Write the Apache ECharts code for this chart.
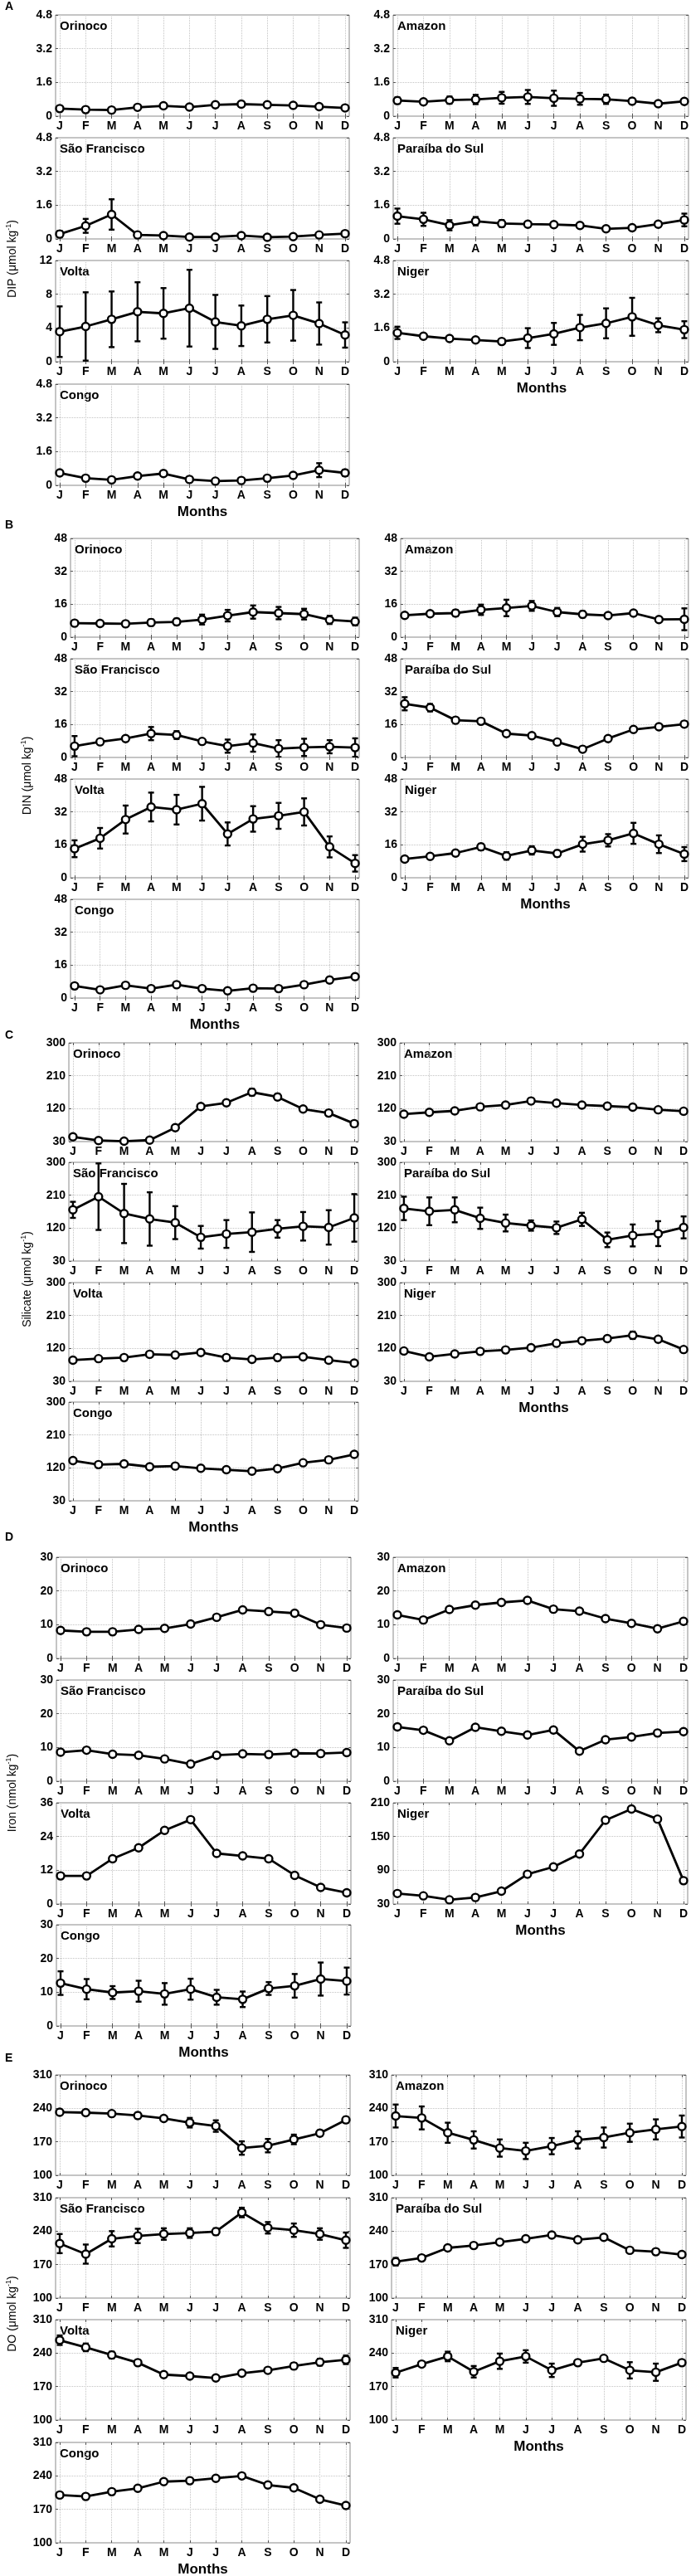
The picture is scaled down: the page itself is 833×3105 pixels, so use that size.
<!DOCTYPE html>
<html>
<head>
<meta charset="utf-8">
<script src="https://cdn.jsdelivr.net/npm/echarts@6/dist/echarts.min.js"></script>
<style>
html, body { margin: 0; padding: 0; background: #fff; }
#main { width: 833px; height: 3105px; }
</style>
</head>
<body>
<div id="main"></div>
<script>
// month letters on every x axis
const MONTHS = ['J', 'F', 'M', 'A', 'M', 'J', 'J', 'A', 'S', 'O', 'N', 'D'];
const RIVERS = ['Orinoco', 'Amazon', 'São Francisco', 'Paraíba do Sul', 'Volta', 'Niger', 'Congo'];

// ---- A: DIP (umol/kg), mean and error ----
const dipOrinoco = [0.36, 0.31, 0.29, 0.42, 0.49, 0.43, 0.54, 0.57, 0.54, 0.51, 0.45, 0.39];
const dipOrinocoSd = [0.05, 0.04, 0.04, 0.06, 0.06, 0.05, 0.1, 0.13, 0.1, 0.07, 0.05, 0.05];
const dipAmazon = [0.74, 0.68, 0.76, 0.79, 0.87, 0.91, 0.85, 0.82, 0.80, 0.71, 0.59, 0.70];
const dipAmazonSd = [0.15, 0.06, 0.17, 0.22, 0.28, 0.33, 0.36, 0.28, 0.22, 0.12, 0.05, 0.08];
const dipSaoFrancisco = [0.23, 0.62, 1.16, 0.19, 0.16, 0.09, 0.09, 0.16, 0.08, 0.11, 0.19, 0.25];
const dipSaoFranciscoSd = [0.15, 0.33, 0.72, 0.05, 0.04, 0.03, 0.03, 0.04, 0.03, 0.03, 0.05, 0.05];
const dipParaiba = [1.08, 0.93, 0.65, 0.84, 0.73, 0.70, 0.68, 0.64, 0.48, 0.53, 0.70, 0.90];
const dipParaibaSd = [0.36, 0.31, 0.24, 0.2, 0.16, 0.12, 0.08, 0.07, 0.07, 0.08, 0.12, 0.3];
const dipVolta = [3.56, 4.18, 5.03, 5.92, 5.73, 6.35, 4.72, 4.26, 5.03, 5.50, 4.53, 3.17];
const dipVoltaSd = [3.0, 4.05, 3.3, 3.5, 3.0, 4.55, 3.2, 2.4, 2.75, 3.0, 2.5, 1.5];
const dipNiger = [1.37, 1.21, 1.10, 1.03, 0.96, 1.12, 1.32, 1.62, 1.82, 2.13, 1.73, 1.52];
const dipNigerSd = [0.29, 0.05, 0.05, 0.08, 0.03, 0.47, 0.52, 0.6, 0.71, 0.9, 0.33, 0.4];
const dipCongo = [0.59, 0.34, 0.26, 0.44, 0.56, 0.28, 0.20, 0.23, 0.34, 0.47, 0.72, 0.59];
const dipCongoSd = [0.1, 0.04, 0.04, 0.05, 0.12, 0.04, 0.03, 0.03, 0.04, 0.05, 0.33, 0.15];

// ---- B: DIN ----
const dinOrinoco = [6.8, 6.65, 6.5, 7.1, 7.45, 8.55, 10.45, 12.2, 11.7, 11.2, 8.4, 7.6];
const dinOrinocoSd = [0.5, 0.5, 1.0, 1.5, 1.5, 2.4, 2.8, 3.2, 3.0, 2.6, 2.0, 1.9];
const dinAmazon = [10.6, 11.4, 11.7, 13.3, 14.2, 15.2, 12.2, 11.1, 10.5, 11.7, 8.6, 8.7];
const dinAmazonSd = [0.5, 1.0, 1.5, 2.5, 4.0, 2.4, 2.0, 1.5, 0.8, 0.8, 0.5, 5.3];
const dinSaoFrancisco = [5.5, 7.6, 9.2, 11.6, 10.9, 7.8, 5.5, 7.0, 4.3, 4.9, 5.2, 4.8];
const dinSaoFranciscoSd = [4.9, 1.0, 1.0, 3.2, 1.9, 0.8, 3.2, 4.2, 4.1, 4.2, 3.2, 4.5];
const dinParaiba = [26.1, 24.2, 18.1, 17.6, 11.6, 10.6, 7.5, 4.0, 9.2, 13.6, 14.9, 16.2];
const dinParaibaSd = [3.2, 1.8, 1.2, 0.8, 0.8, 0.8, 0.8, 0.8, 0.8, 0.8, 0.8, 1.2];
const dinVolta = [14.1, 19.2, 28.3, 34.4, 33.1, 36.0, 21.3, 28.6, 30.1, 32.0, 15.0, 7.0];
const dinVoltaSd = [4.1, 5.0, 6.8, 7.0, 7.2, 8.2, 5.6, 6.2, 6.3, 6.6, 5.1, 4.0];
const dinNiger = [9.1, 10.4, 12.0, 15.0, 10.6, 13.3, 11.8, 16.3, 18.2, 21.6, 16.3, 11.5];
const dinNigerSd = [1.0, 1.0, 1.2, 1.5, 1.8, 2.0, 1.5, 3.6, 3.0, 5.1, 4.3, 3.4];
const dinCongo = [5.9, 4.0, 6.2, 4.6, 6.5, 4.6, 3.5, 4.8, 4.6, 6.5, 8.8, 10.4];
const dinCongoSd = [1.0, 0.8, 0.8, 0.5, 1.2, 0.5, 0.5, 0.5, 0.5, 0.8, 1.3, 1.3];

// ---- C: silicate ----
const sioOrinoco = [43, 33, 31, 34, 68, 126, 136, 165, 152, 119, 108, 79];
const sioOrinocoSd = [3, 2, 2, 2, 3, 3, 3, 9, 8, 6, 4, 3];
const sioAmazon = [105, 110, 114, 125, 130, 141, 135, 130, 127, 124, 117, 113];
const sioAmazonSd = [4, 4, 5, 5, 5, 7, 6, 5, 5, 4, 4, 4];
const sioSaoFrancisco = [170, 206, 160, 145, 135, 95, 104, 109, 118, 125, 122, 148];
const sioSaoFranciscoSd = [22, 91, 81, 73, 45, 31, 38, 54, 24, 39, 47, 65];
const sioParaiba = [174, 166, 170, 147, 134, 127, 121, 144, 88, 100, 105, 122];
const sioParaibaSd = [32, 38, 34, 29, 23, 14, 17, 18, 20, 30, 34, 30];
const sioVolta = [88, 92, 95, 104, 102, 109, 95, 90, 95, 97, 88, 80];
const sioVoltaSd = [4, 4, 4, 4, 4, 5, 4, 4, 4, 4, 4, 3];
const sioNiger = [113, 97, 105, 112, 116, 122, 134, 141, 147, 156, 145, 117];
const sioNigerSd = [5, 5, 5, 5, 5, 6, 6, 6, 7, 10, 7, 4];
const sioCongo = [140, 129, 131, 123, 125, 119, 115, 111, 118, 134, 142, 157];
const sioCongoSd = [4, 4, 4, 3, 3, 3, 3, 3, 3, 4, 4, 4];

// ---- D: iron (nmol/kg) ----
const feOrinoco = [8.3, 7.9, 7.9, 8.6, 8.9, 10.2, 12.2, 14.4, 13.9, 13.4, 10.0, 9.0];
const feOrinocoSd = [0.3, 0.3, 0.3, 0.3, 0.3, 0.3, 0.4, 0.4, 0.4, 0.4, 0.3, 0.3];
const feAmazon = [12.9, 11.4, 14.5, 15.8, 16.6, 17.2, 14.6, 14.0, 11.8, 10.4, 8.8, 11.0];
const feAmazonSd = [0.4, 0.4, 0.4, 0.4, 0.4, 0.6, 0.4, 0.4, 0.4, 0.4, 0.4, 0.4];
const feSaoFrancisco = [8.6, 9.2, 8.0, 7.7, 6.6, 5.1, 7.7, 8.1, 7.9, 8.3, 8.2, 8.5];
const feSaoFranciscoSd = [0.3, 0.3, 0.3, 0.3, 0.3, 0.3, 0.3, 0.3, 0.3, 0.3, 0.3, 0.3];
const feParaiba = [16.1, 15.1, 12.0, 16.0, 14.8, 13.7, 15.2, 8.9, 12.3, 13.1, 14.3, 14.7];
const feParaibaSd = [0.5, 0.4, 0.4, 0.4, 0.4, 0.4, 0.4, 0.4, 0.4, 0.4, 0.4, 0.4];
const feVolta = [10.0, 10.0, 16.1, 20.0, 26.2, 30.0, 18.0, 17.1, 16.1, 10.2, 5.9, 4.0];
const feVoltaSd = [0.4, 0.4, 0.4, 0.4, 0.4, 0.4, 0.4, 0.4, 0.4, 0.4, 0.4, 0.4];
const feNiger = [48.7, 44.5, 37.5, 41.6, 52.8, 83, 96, 119, 179, 199, 181, 71.5];
const feNigerSd = [1.5, 1.5, 1.5, 1.5, 1.5, 1.5, 1.5, 1.5, 1.5, 1.5, 1.5, 1.5];
const feCongo = [12.7, 10.9, 9.9, 10.3, 9.5, 10.9, 8.5, 7.9, 11.1, 11.9, 13.9, 13.3];
const feCongoSd = [3.5, 3.0, 1.9, 3.1, 3.2, 3.1, 2.2, 2.3, 1.9, 3.5, 4.9, 4.0];

// ---- E: dissolved oxygen ----
const doOrinoco = [232, 231, 229, 225, 219, 210, 203, 157, 162, 175, 188, 216];
const doOrinocoSd = [3, 3, 3, 6, 4, 10, 12, 14, 14, 10, 6, 6];
const doAmazon = [224, 220, 189, 174, 157, 151, 161, 174, 179, 189, 196, 202];
const doAmazonSd = [24, 24, 21, 18, 18, 17, 17, 18, 21, 19, 21, 23];
const doSaoFrancisco = [214, 192, 224, 230, 234, 236, 239, 279, 247, 242, 234, 221];
const doSaoFranciscoSd = [20, 20, 16, 15, 12, 10, 7, 10, 12, 14, 12, 16];
const doParaiba = [176, 184, 205, 210, 217, 224, 232, 222, 227, 200, 197, 191];
const doParaibaSd = [8, 5, 3, 3, 3, 3, 3, 3, 3, 3, 3, 3];
const doVolta = [267, 252, 236, 220, 195, 192, 188, 198, 204, 213, 221, 226];
const doVoltaSd = [10, 8, 7, 5, 3, 3, 3, 3, 3, 6, 7, 9];
const doNiger = [199, 217, 233, 201, 223, 233, 204, 220, 229, 204, 200, 220];
const doNigerSd = [10, 3, 10, 12, 16, 13, 14, 3, 5, 17, 18, 3];
const doCongo = [200, 197, 207, 214, 228, 230, 235, 240, 221, 215, 191, 178];
const doCongoSd = [3, 3, 3, 3, 3, 3, 3, 3, 3, 3, 3, 3];

// y tick values
const dipTicks = [0, 1.6, 3.2, 4.8];
const dipVoltaTicks = [0, 4, 8, 12];
const dinTicks = [0, 16, 32, 48];
const sioTicks = [30, 120, 210, 300];
const feTicks = [0, 10, 20, 30];
const feVoltaTicks = [0, 12, 24, 36];
const feNigerTicks = [30, 90, 150, 210];
const doTicks = [100, 170, 240, 310];

const panels = [
  { letter: 'A', name: 'DIP (μmol kg', means: [dipOrinoco, dipAmazon, dipSaoFrancisco, dipParaiba, dipVolta, dipNiger, dipCongo],
    sds: [dipOrinocoSd, dipAmazonSd, dipSaoFranciscoSd, dipParaibaSd, dipVoltaSd, dipNigerSd, dipCongoSd],
    ticks: [dipTicks, dipTicks, dipTicks, dipTicks, dipVoltaTicks, dipTicks, dipTicks] },
  { letter: 'B', name: 'DIN (μmol kg', means: [dinOrinoco, dinAmazon, dinSaoFrancisco, dinParaiba, dinVolta, dinNiger, dinCongo],
    sds: [dinOrinocoSd, dinAmazonSd, dinSaoFranciscoSd, dinParaibaSd, dinVoltaSd, dinNigerSd, dinCongoSd],
    ticks: [dinTicks, dinTicks, dinTicks, dinTicks, dinTicks, dinTicks, dinTicks] },
  { letter: 'C', name: 'Silicate (μmol kg', means: [sioOrinoco, sioAmazon, sioSaoFrancisco, sioParaiba, sioVolta, sioNiger, sioCongo],
    sds: [sioOrinocoSd, sioAmazonSd, sioSaoFranciscoSd, sioParaibaSd, sioVoltaSd, sioNigerSd, sioCongoSd],
    ticks: [sioTicks, sioTicks, sioTicks, sioTicks, sioTicks, sioTicks, sioTicks] },
  { letter: 'D', name: 'Iron (nmol kg', means: [feOrinoco, feAmazon, feSaoFrancisco, feParaiba, feVolta, feNiger, feCongo],
    sds: [feOrinocoSd, feAmazonSd, feSaoFranciscoSd, feParaibaSd, feVoltaSd, feNigerSd, feCongoSd],
    ticks: [feTicks, feTicks, feTicks, feTicks, feVoltaTicks, feNigerTicks, feTicks] },
  { letter: 'E', name: 'DO (μmol kg', means: [doOrinoco, doAmazon, doSaoFrancisco, doParaiba, doVolta, doNiger, doCongo],
    sds: [doOrinocoSd, doAmazonSd, doSaoFranciscoSd, doParaibaSd, doVoltaSd, doNigerSd, doCongoSd],
    ticks: [doTicks, doTicks, doTicks, doTicks, doTicks, doTicks, doTicks] }
];

// page layout (pixels): row tops, plot height, column x ranges, label spots
const layout = [
  { letterY: 8,    rowTops: [18, 166, 314, 463],       rowH: 122, cols: [[67, 421], [474, 832]], yTitle: [15, 312] },
  { letterY: 633,  rowTops: [649, 794, 939, 1084],     rowH: 119, cols: [[85, 433], [483, 832]], yTitle: [33, 935] },
  { letterY: 1248, rowTops: [1257, 1401, 1546, 1690],  rowH: 119, cols: [[83, 432], [482, 829]], yTitle: [33, 1542] },
  { letterY: 1853, rowTops: [1877, 2025, 2173, 2320],  rowH: 122, cols: [[68, 423], [474, 829]], yTitle: [15, 2161] },
  { letterY: 2481, rowTops: [2501, 2649, 2796, 2944],  rowH: 121, cols: [[67, 422], [472, 827]], yTitle: [15, 2789] }
];
const slots = [[0, 0], [0, 1], [1, 0], [1, 1], [2, 0], [2, 1], [3, 0]]; // [row, col] for each river

const FONT = '"Liberation Sans", Arial, Helvetica, sans-serif';
const monthPos = [1, 2, 3, 4, 5, 6, 7, 8, 9, 10, 11, 12];
const dotted = { show: true, lineStyle: { type: 'dotted', color: '#c4c4c4', width: 1 } };

const grids = [], xAxes = [], yAxes = [], series = [], graphics = [];

function errorBarItem(params, api) {
  const x = api.value(0);
  const lo = api.coord([x, api.value(1)]);
  const hi = api.coord([x, api.value(2)]);
  const cap = 3.5;
  const st = { stroke: '#000', lineWidth: 2.4 };
  return {
    type: 'group',
    children: [
      { type: 'line', shape: { x1: lo[0], y1: lo[1], x2: hi[0], y2: hi[1] }, style: st },
      { type: 'line', shape: { x1: lo[0] - cap, y1: lo[1], x2: lo[0] + cap, y2: lo[1] }, style: st },
      { type: 'line', shape: { x1: hi[0] - cap, y1: hi[1], x2: hi[0] + cap, y2: hi[1] }, style: st }
    ]
  };
}

panels.forEach(function (p, pi) {
  const L = layout[pi];
  graphics.push({ type: 'text', x: 6, y: L.letterY, style: { text: p.letter, fontSize: 14, fontWeight: 'bold', fontFamily: FONT, fill: '#000', verticalAlign: 'middle' } });
  graphics.push({
    type: 'text', x: L.yTitle[0], y: L.yTitle[1], rotation: Math.PI / 2,
    style: {
      text: '{a|' + p.name + '}{s|-1}{a|)}', align: 'center', verticalAlign: 'middle', fill: '#000',
      rich: { a: { fontSize: 14, fontFamily: FONT, fill: '#000' }, s: { fontSize: 9, fontFamily: FONT, fill: '#000', padding: [0, 0, 8, 0] } }
    }
  });

  RIVERS.forEach(function (river, ri) {
    const k = grids.length;
    const row = slots[ri][0], col = slots[ri][1];
    const left = L.cols[col][0], right = L.cols[col][1];
    const top = L.rowTops[row];
    const ticks = p.ticks[ri];
    grids.push({ left: left, top: top, width: right - left, height: L.rowH, show: true, borderColor: '#8a8a8a', borderWidth: 1, containLabel: false });
    // bottom axis with month letters, plus a bare top axis for the box ticks
    xAxes.push({
      gridIndex: k, type: 'value', position: 'bottom', min: 0.84, max: 12.16,
      axisLine: { show: false },
      axisTick: { show: true, inside: true, length: 3, customValues: monthPos, lineStyle: { color: '#555' } },
      axisLabel: { customValues: monthPos, formatter: function (v) { return MONTHS[Math.round(v) - 1]; }, fontSize: 14, fontWeight: 'bold', fontFamily: FONT, color: '#000', margin: 5 },
      splitLine: dotted
    });
    xAxes.push({
      gridIndex: k, type: 'value', position: 'top', min: 0.84, max: 12.16,
      axisLine: { show: false }, axisLabel: { show: false }, splitLine: { show: false },
      axisTick: { show: true, inside: true, length: 3, customValues: monthPos, lineStyle: { color: '#555' } }
    });
    yAxes.push({
      gridIndex: k, type: 'value', position: 'left', min: ticks[0], max: ticks[ticks.length - 1],
      axisLine: { show: false },
      axisTick: { show: true, inside: true, length: 3, customValues: ticks, lineStyle: { color: '#555' } },
      axisLabel: { customValues: ticks, fontSize: 14, fontWeight: 'bold', fontFamily: FONT, color: '#000', margin: 4 },
      splitLine: dotted
    });
    yAxes.push({
      gridIndex: k, type: 'value', position: 'right', min: ticks[0], max: ticks[ticks.length - 1],
      axisLine: { show: false }, axisLabel: { show: false }, splitLine: { show: false },
      axisTick: { show: true, inside: true, length: 3, customValues: ticks, lineStyle: { color: '#555' } }
    });
    const ax = xAxes.length - 2, ay = yAxes.length - 2;
    const m = p.means[ri], sd = p.sds[ri];
    series.push({
      type: 'custom', xAxisIndex: ax, yAxisIndex: ay, renderItem: errorBarItem, clip: true, silent: true, z: 2,
      data: m.map(function (v, i) { return [i + 1, v - sd[i], v + sd[i]]; })
    });
    series.push({
      type: 'line', xAxisIndex: ax, yAxisIndex: ay, silent: true, z: 3,
      symbol: 'circle', symbolSize: 9,
      lineStyle: { color: '#000', width: 2.8 },
      itemStyle: { color: '#fff', borderColor: '#000', borderWidth: 2.4 },
      data: m.map(function (v, i) { return [i + 1, v]; })
    });
    graphics.push({ type: 'text', x: left + 5, y: top + 14, style: { text: river, fontSize: 15, fontWeight: 'bold', fontFamily: FONT, fill: '#000', verticalAlign: 'middle' } });
    // "Months" under the bottom plot of each column
    if ((col === 0 && row === 3) || (col === 1 && row === 2)) {
      graphics.push({ type: 'text', x: (left + right) / 2, y: top + L.rowH + 32, style: { text: 'Months', fontSize: 17, fontWeight: 'bold', fontFamily: FONT, fill: '#000', align: 'center', verticalAlign: 'middle' } });
    }
  });
});

const chart = echarts.init(document.getElementById('main'), null, { renderer: 'canvas' });
chart.setOption({
  animation: false,
  backgroundColor: '#fff',
  grid: grids,
  xAxis: xAxes,
  yAxis: yAxes,
  series: series,
  graphic: graphics
});
</script>
</body>
</html>
